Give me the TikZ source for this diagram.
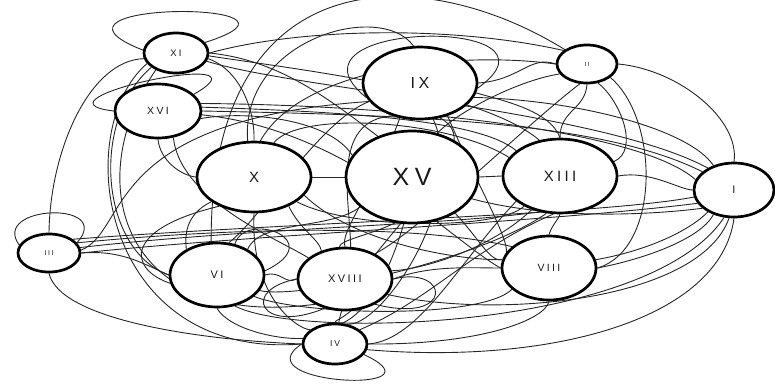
\documentclass[tikz,border=0pt]{standalone}
\usepackage{fontspec}
\setmainfont{Liberation Sans}[LetterSpace=22]
\usetikzlibrary{shapes.geometric}
\pgfdeclarelayer{edges}
\pgfsetlayers{edges,main}
\tikzset{
  vtx/.style={ellipse, draw=black, line width=2.7pt, fill=white, inner sep=0pt, text=black!90},
  lnk/.style={draw=black!85, line width=0.9pt},
}
\begin{document}
\begin{tikzpicture}[x=1pt, y=-1pt]
\useasboundingbox (0,0) rectangle (775,383);

% vertices
\node[vtx, minimum width=64pt, minimum height=40pt, font=\fontsize{9.5}{10}\selectfont] (xi) at (176,53) {XI};
\node[vtx, minimum width=86pt, minimum height=54pt, font=\fontsize{10.5}{11}\selectfont] (xvi) at (158,111) {XVI};
\node[vtx, minimum width=114pt, minimum height=70pt, font=\fontsize{15}{16}\selectfont] (x) at (254,177) {X};
\node[vtx, minimum width=114pt, minimum height=72pt, font=\fontsize{16}{17}\selectfont] (ix) at (420,83) {IX};
\node[vtx, minimum width=60pt, minimum height=38pt, font=\fontsize{6}{7}\selectfont] (ii) at (587,64) {II};
\node[vtx, minimum width=132pt, minimum height=92pt, font=\fontsize{25}{26}\selectfont] (xv) at (412,177) {XV};
\node[vtx, minimum width=114pt, minimum height=74pt, font=\fontsize{15}{16}\selectfont] (xiii) at (560,176) {XIII};
\node[vtx, minimum width=80pt, minimum height=54pt, font=\fontsize{11}{12}\selectfont] (i) at (734,190) {I};
\node[vtx, minimum width=62pt, minimum height=38pt, font=\fontsize{7}{8}\selectfont] (iii) at (49,253) {III};
\node[vtx, minimum width=94pt, minimum height=64pt, font=\fontsize{11}{12}\selectfont] (vi) at (217,275) {VI};
\node[vtx, minimum width=94pt, minimum height=62pt, font=\fontsize{11}{12}\selectfont] (xviii) at (345,279) {XVIII};
\node[vtx, minimum width=64pt, minimum height=40pt, font=\fontsize{8.5}{9}\selectfont] (iv) at (335,344) {IV};
\node[vtx, minimum width=94pt, minimum height=64pt, font=\fontsize{10.5}{11}\selectfont] (viii) at (549,268) {VIII};

\begin{pgfonlayer}{edges}
% self loops
\draw[lnk] (xi.175) .. controls (15,0) and (340,0) .. (xi.20);
\draw[lnk] (xvi.west) .. controls (20,100) and (280,45) .. (xvi.25);
\draw[lnk] (iii.165) .. controls (-10,205) and (115,200) .. (iii.20);
\draw[lnk] (iv.west) .. controls (240,385) and (450,395) .. (iv.-20);
\draw[lnk] (ix.195) .. controls (270,20) and (580,15) .. (ix.-5);
\draw[lnk] (xviii.west) .. controls (240,290) and (260,335) .. (xviii.235);
\draw[lnk] (vi.60) .. controls (245,210) and (330,240) .. (vi.5);
\draw[lnk] (xviii.east) .. controls (450,265) and (455,325) .. (xviii.-40);

% upper connectors
\draw[lnk] (xi.east) .. controls (300,28) and (450,25) .. (ii.150);
\draw[lnk] (ii.north west) .. controls (420,-40) and (210,-40) .. (vi.100);
\draw[lnk] (xi.-10) .. controls (240,70) and (255,110) .. (x.north);
\draw[lnk] (xi.east) .. controls (280,60) and (330,100) .. (xv.130);
\draw[lnk] (xi.-5) .. controls (300,70) and (480,90) .. (xiii.120);
\draw[lnk] (xi.-15) .. controls (300,90) and (600,110) .. (i.140);
\draw[lnk] (xi.200) .. controls (70,130) and (100,360) .. (iv.west);
\draw[lnk] (xi.210) .. controls (90,120) and (100,250) .. (vi.west);
\draw[lnk] (xi.220) .. controls (80,180) and (120,330) .. (xviii.220);
\draw[lnk] (iii.north) .. controls (50,150) and (90,60) .. (xi.190);
\draw[lnk] (xvi.east) .. controls (400,115) and (600,120) .. (i.150);
\draw[lnk] (xvi.10) .. controls (400,105) and (640,130) .. (i.165);
\draw[lnk] (xvi.5) .. controls (350,112) and (480,120) .. (xiii.150);
\draw[lnk] (xvi.-5) .. controls (350,130) and (450,240) .. (viii.west);
\draw[lnk] (xvi.south) .. controls (160,160) and (180,175) .. (x.west);
\draw[lnk] (xvi.-60) .. controls (180,200) and (280,240) .. (xviii.150);
\draw[lnk] (x.100) .. controls (240,40) and (380,0) .. (ix.100);
\draw[lnk] (ii.west) .. controls (450,50) and (300,70) .. (x.80);
\draw[lnk] (xv.160) .. controls (330,120) and (250,110) .. (xvi.-10);
\draw[lnk] (xiii.160) .. controls (450,120) and (300,110) .. (x.60);

% middle connectors
\draw[lnk] (x.east) -- (xv.west);
\draw[lnk] (xv.east) -- (xiii.west);
\draw[lnk] (ii.south) .. controls (585,110) and (560,110) .. (xiii.north);
\draw[lnk] (ix.-10) .. controls (500,100) and (550,110) .. (xiii.north);
\draw[lnk] (ix.east) .. controls (520,80) and (530,55) .. (ii.west);
\draw[lnk] (ix.-15) .. controls (580,100) and (690,130) .. (i.130);
\draw[lnk] (ii.east) .. controls (680,70) and (740,120) .. (i.north);
\draw[lnk] (ii.-30) .. controls (660,120) and (660,250) .. (viii.east);
\draw[lnk] (xiii.east) .. controls (650,170) and (680,190) .. (i.west);
\draw[lnk] (xiii.15) .. controls (640,150) and (620,100) .. (ii.-60);
\draw[lnk] (xv.60) .. controls (460,110) and (520,80) .. (ii.200);
\draw[lnk] (ii.-110) .. controls (520,130) and (420,230) .. (xviii.40);
\draw[lnk] (ix.200) .. controls (320,120) and (260,220) .. (vi.70);
\draw[lnk] (ix.-50) .. controls (470,170) and (510,240) .. (viii.160);
\draw[lnk] (ix.-70) .. controls (470,200) and (380,330) .. (iv.60);
\draw[lnk] (ix.240) .. controls (370,200) and (340,230) .. (xviii.north);
\draw[lnk] (xviii.80) .. controls (350,200) and (330,120) .. (ix.-130);
\draw[lnk] (iv.80) .. controls (350,250) and (500,150) .. (ix.-60);

% lower connectors
\draw[lnk] (xviii.east) .. controls (430,265) and (470,268) .. (viii.west);
\draw[lnk] (xv.-40) .. controls (480,240) and (490,262) .. (viii.170);
\draw[lnk] (viii.north) .. controls (552,225) and (558,220) .. (xiii.south);
\draw[lnk] (viii.east) .. controls (640,260) and (700,240) .. (i.-130);
\draw[lnk] (viii.10) .. controls (650,250) and (690,230) .. (i.-140);
\draw[lnk] (iii.east) .. controls (250,235) and (550,222) .. (i.-160);
\draw[lnk] (iii.10) .. controls (250,228) and (450,225) .. (xiii.-120);
\draw[lnk] (iii.20) .. controls (250,226) and (420,225) .. (viii.150);
\draw[lnk] (iii.30) .. controls (300,222) and (600,215) .. (i.-170);
\draw[lnk] (iii.5) .. controls (130,230) and (100,120) .. (ix.200);
\draw[lnk] (iii.south) .. controls (60,320) and (200,340) .. (iv.west);
\draw[lnk] (iii.east) .. controls (120,250) and (140,262) .. (vi.west);
\draw[lnk] (x.220) .. controls (120,230) and (130,270) .. (vi.190);
\draw[lnk] (vi.east) .. controls (280,270) and (285,285) .. (xviii.west);
\draw[lnk] (vi.south) .. controls (230,330) and (280,340) .. (iv.170);
\draw[lnk] (vi.-30) .. controls (300,315) and (480,320) .. (viii.-150);
\draw[lnk] (vi.-60) .. controls (300,340) and (650,330) .. (i.-110);
\draw[lnk] (vi.140) .. controls (185,235) and (185,215) .. (x.-150);
\draw[lnk] (xviii.-80) .. controls (340,320) and (335,320) .. (iv.north);
\draw[lnk] (xviii.-20) .. controls (500,320) and (700,300) .. (i.-100);
\draw[lnk] (iv.-10) .. controls (550,365) and (720,320) .. (i.south);
\draw[lnk] (iv.east) .. controls (480,345) and (545,320) .. (viii.south);
\draw[lnk] (iv.30) .. controls (430,300) and (470,250) .. (xiii.-100);
\draw[lnk] (x.-40) .. controls (300,230) and (320,240) .. (xviii.130);
\draw[lnk] (x.south) .. controls (250,300) and (300,330) .. (iv.150);
\draw[lnk] (x.-20) .. controls (350,240) and (450,260) .. (viii.170);
\draw[lnk] (x.-30) .. controls (350,230) and (500,230) .. (xiii.-140);
\draw[lnk] (xv.-100) .. controls (390,270) and (370,310) .. (iv.70);
\draw[lnk] (xv.-150) .. controls (330,230) and (260,220) .. (vi.40);
\draw[lnk] (xv.-20) .. controls (550,220) and (650,215) .. (i.-150);
\draw[lnk] (xviii.100) .. controls (340,240) and (370,235) .. (xv.-110);
\draw[lnk] (xiii.-110) .. controls (480,260) and (300,300) .. (vi.-20);
\draw[lnk] (xiii.-130) .. controls (490,250) and (420,270) .. (xviii.10);
\draw[lnk] (xiii.-150) .. controls (460,260) and (420,340) .. (iv.east);
\end{pgfonlayer}
\end{tikzpicture}
\end{document}
